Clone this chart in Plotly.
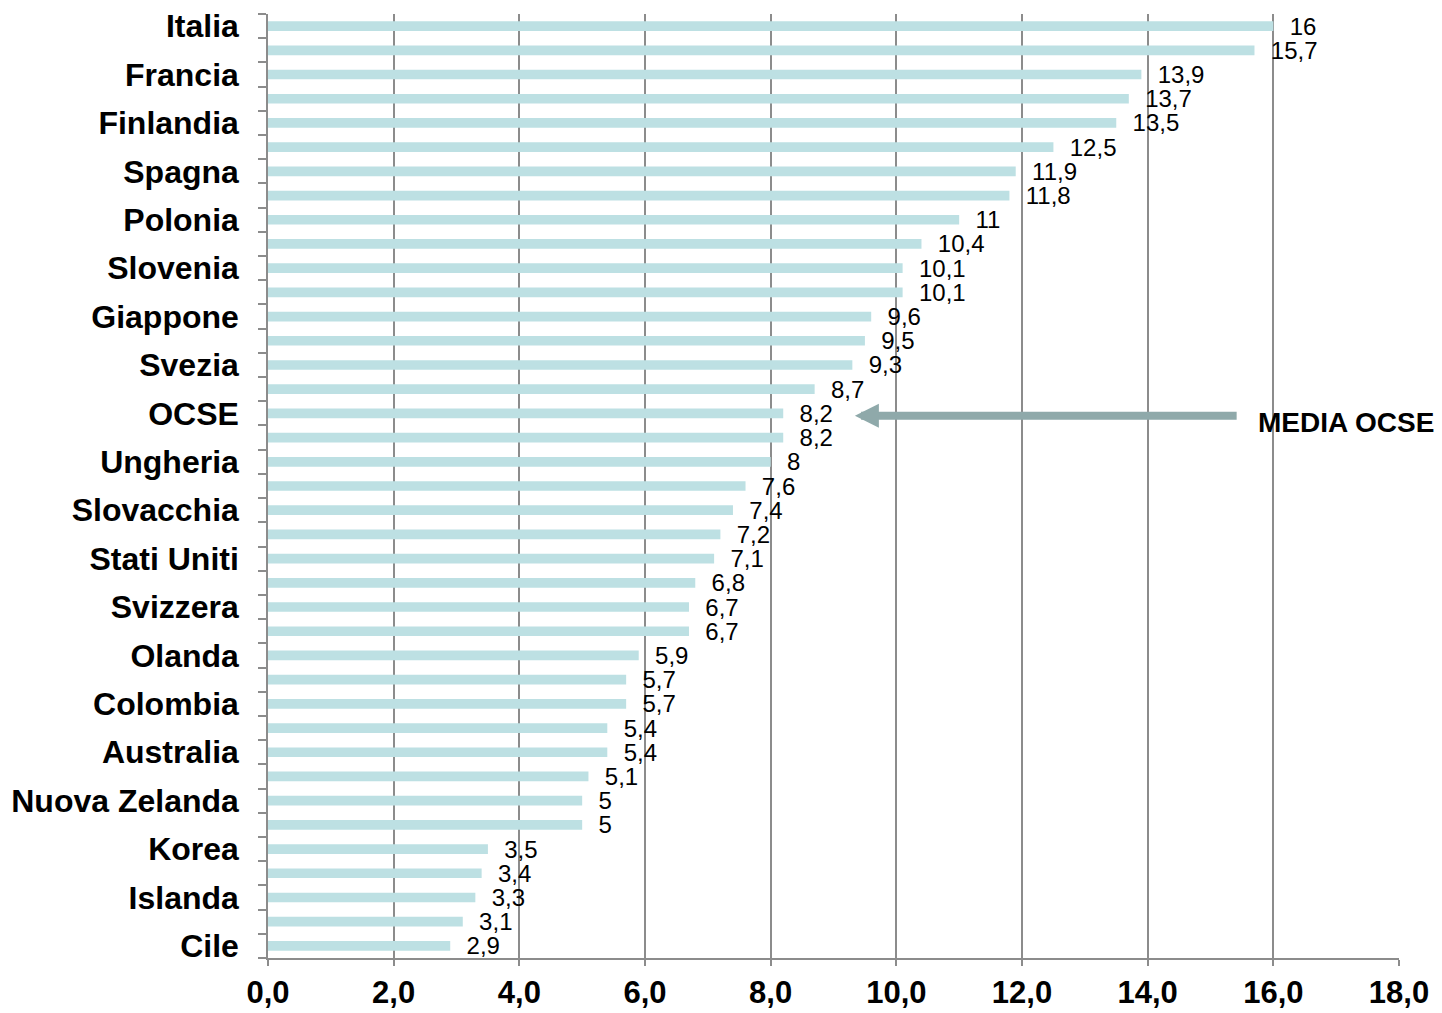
import plotly.graph_objects as go

values = [16, 15.7, 13.9, 13.7, 13.5, 12.5, 11.9, 11.8, 11, 10.4, 10.1, 10.1,
          9.6, 9.5, 9.3, 8.7, 8.2, 8.2, 8, 7.6, 7.4, 7.2, 7.1, 6.8, 6.7, 6.7,
          5.9, 5.7, 5.7, 5.4, 5.4, 5.1, 5, 5, 3.5, 3.4, 3.3, 3.1, 2.9]
labels = ["Italia", "", "Francia", "", "Finlandia", "", "Spagna", "", "Polonia", "",
          "Slovenia", "", "Giappone", "", "Svezia", "", "OCSE", "", "Ungheria", "",
          "Slovacchia", "", "Stati Uniti", "", "Svizzera", "", "Olanda", "",
          "Colombia", "", "Australia", "", "Nuova Zelanda", "", "Korea", "",
          "Islanda", "", "Cile"]
x_ticks = [0, 2, 4, 6, 8, 10, 12, 14, 16, 18]
arrow_label = "MEDIA OCSE"

FONT = "Liberation Sans, Arial, sans-serif"
GRID = "#8c8c8c"

n = len(values)
pos = list(range(n))
texts = ["  " + (str(v).replace(".", ",") if v != int(v) else str(int(v))) for v in values]

tick_pos = [i for i, l in enumerate(labels) if l]
tick_txt = [l for l in labels if l]
boundaries = [i - 0.5 for i in range(n + 1)]

fig = go.Figure()
fig.add_trace(go.Bar(
    x=values, y=pos, orientation="h", width=0.4,
    marker=dict(color="#bde0e3", line=dict(width=0)),
    text=texts, textposition="outside", constraintext="none",
    textfont=dict(family=FONT, size=24, color="#000000"),
    cliponaxis=False, hoverinfo="skip",
))

ocse_idx = labels.index("OCSE")
fig.add_annotation(
    x=9.34, y=ocse_idx + 0.1, ax=15.44, ay=ocse_idx + 0.1, xref="x", yref="y", axref="x", ayref="y",
    showarrow=True, arrowhead=2, arrowsize=0.6, arrowwidth=8, arrowcolor="#8fa9aa", text="",
)
fig.add_annotation(
    x=15.72, y=ocse_idx + 0.36, xref="x", yref="y", xanchor="left", yanchor="middle",
    showarrow=False, text="<b>" + arrow_label + "</b>",
    font=dict(family=FONT, size=28, color="#000000"),
)

fig.update_layout(
    width=1442, height=1013,
    margin=dict(l=260, r=51, t=6, b=63),
    paper_bgcolor="white", plot_bgcolor="white",
    showlegend=False, separators=",.",
)
fig.update_xaxes(
    range=[0, 18], tickvals=x_ticks, tickformat=".1f", automargin=False,
    showgrid=True, gridcolor=GRID, gridwidth=1.5,
    showline=True, linecolor=GRID, linewidth=1.5,
    ticks="outside", ticklen=6, tickcolor=GRID, tickwidth=1.5,
    tickfont=dict(family=FONT, size=31, color="#000000", weight="bold"),
    zeroline=False, ticklabeloverflow="allow",
)
fig.update_yaxes(
    range=[n - 0.5, -0.5], tickmode="array", tickvals=tick_pos, ticktext=tick_txt,
    ticks="", showgrid=False, zeroline=False, automargin=False,
    showline=True, linecolor=GRID, linewidth=1.5,
    ticklabelstandoff=21, ticklabeloverflow="allow",
    tickfont=dict(family=FONT, size=32, color="#000000", weight="bold"),
    minor=dict(tickmode="array", tickvals=boundaries, ticks="outside", ticklen=8,
               tickcolor=GRID, tickwidth=1.5, showgrid=False),
)

fig.write_html("out.html")
